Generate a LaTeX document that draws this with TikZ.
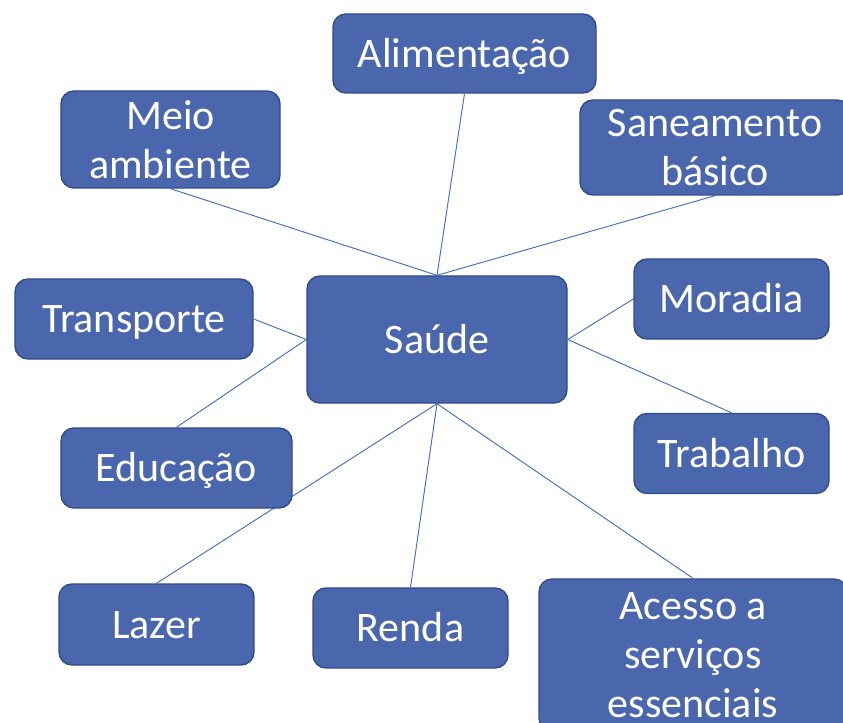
\documentclass[tikz,border=0pt]{standalone}
\usepackage{fontspec}
\setmainfont{Carlito}
\usetikzlibrary{backgrounds}

\definecolor{boxblue}{HTML}{4A67AD}
\definecolor{boxedge}{HTML}{304C8C}
\definecolor{linkblue}{HTML}{4472C4}

\begin{document}
\begin{tikzpicture}[x=0.2mm, y=-0.2mm,
    topic/.style={draw=boxedge, line width=0.8pt, fill=boxblue, rounded corners=2.6mm,
        text=white, align=center, inner sep=0pt, font=\fontsize{23.9}{27.9}\selectfont},
    oneline/.style={text height=17pt, text depth=1.6pt},
    boxsize/.style 2 args={minimum width=#1, minimum height=#2},
    link/.style={draw=linkblue, line width=0.55pt}]
    \useasboundingbox (0,0) rectangle (843,723);

    % Central topic
    \node[topic, oneline, boxsize={52mm}{25.4mm}] (saude) at (437,339.5) {Saúde};

    % Topics around it
    \node[topic, oneline, boxsize={52.6mm}{15.8mm}] (alimentacao) at (464.5,53.5) {Alimentação};
    \node[topic, boxsize={43.8mm}{19.4mm}] (meio) at (170.5,139.5) {Meio\\ambiente};
    \node[topic, boxsize={54mm}{19mm}] (saneamento) at (715,147.5) {Saneamento\\básico};
    \node[topic, oneline, boxsize={47.6mm}{16mm}] (transporte) at (134,319) {Transporte};
    \node[topic, oneline, boxsize={39mm}{16mm}] (moradia) at (731.5,299) {Moradia};
    \node[topic, oneline, boxsize={39mm}{16mm}] (trabalho) at (731.5,453.5) {Trabalho};
    \node[topic, oneline, boxsize={46.2mm}{16mm}] (educacao) at (176.5,468) {Educação};
    \node[topic, oneline, boxsize={39mm}{16.2mm}] (lazer) at (156.5,624.5) {Lazer};
    \node[topic, oneline, boxsize={39mm}{16mm}] (renda) at (410.5,628) {Renda};
    \node[topic, boxsize={61.6mm}{30.4mm}] (acesso) at (693,655) {Acesso a\\serviços\\essenciais};

    % Links, behind the boxes
    \begin{scope}[on background layer]
        \foreach \t in {alimentacao,meio,saneamento}
            \draw[link] (saude.north) -- (\t.south);
        \foreach \t in {lazer,renda,acesso}
            \draw[link] (saude.south) -- (\t.north);
        \draw[link] (saude.west) -- (transporte.east);
        \draw[link] (saude.west) -- (educacao.north);
        \draw[link] (saude.east) -- (moradia.west);
        \draw[link] (saude.east) -- (trabalho.north);
    \end{scope}
\end{tikzpicture}
\end{document}
